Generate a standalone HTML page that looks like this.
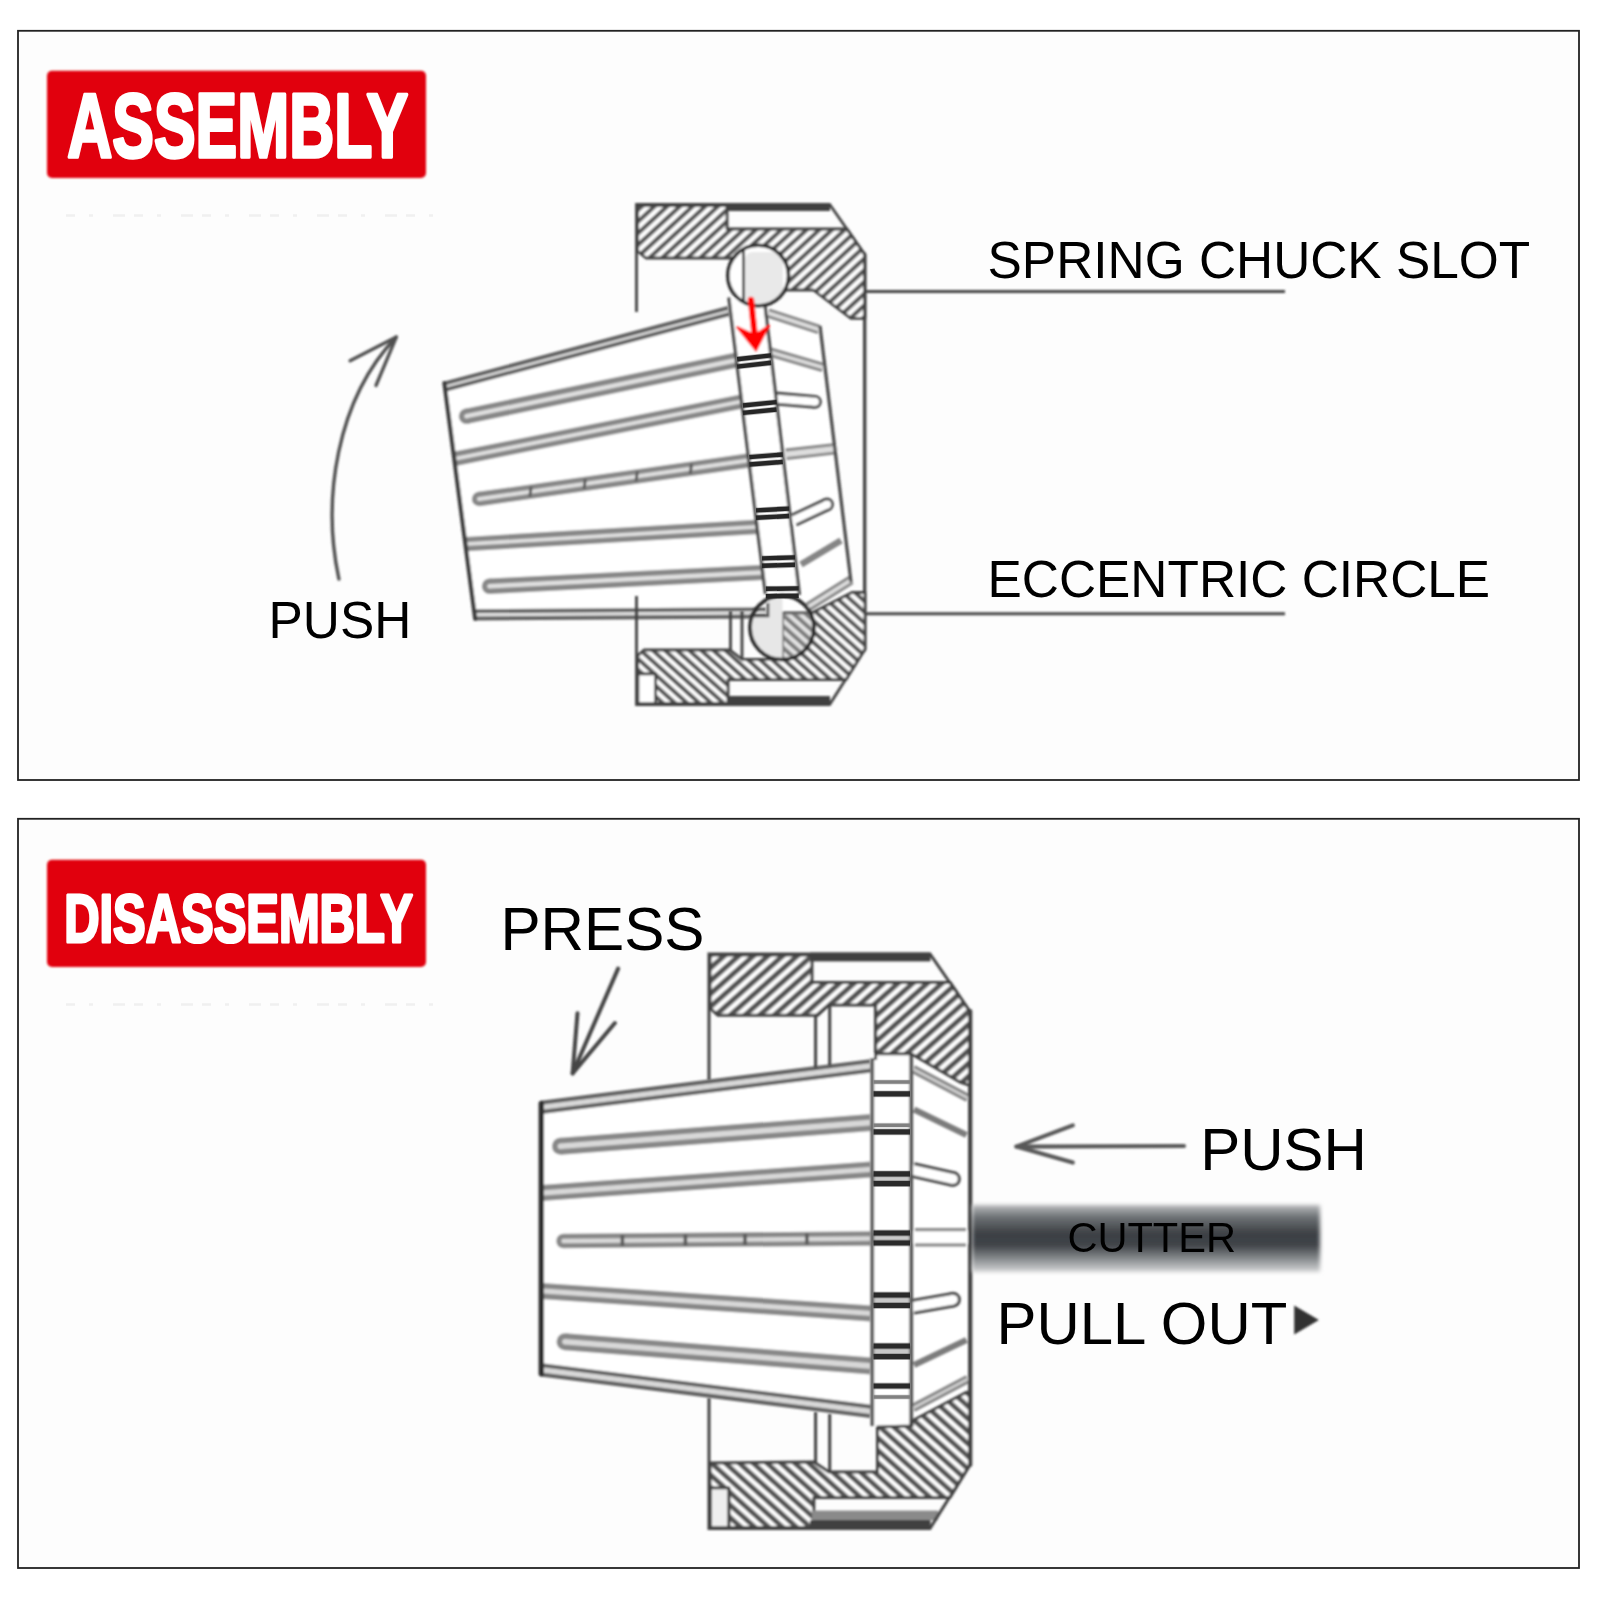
<!DOCTYPE html>
<html lang="en"><head><meta charset="utf-8"><title>Assembly / Disassembly</title>
<style>
html,body{margin:0;padding:0;background:#fff;}
body{width:1600px;height:1600px;position:relative;overflow:hidden;font-family:"Liberation Sans",sans-serif;}
svg{position:absolute;left:0;top:0;}
svg text{font-family:"Liberation Sans",sans-serif;fill:#000;}
.hd{font-weight:bold;fill:#fff;stroke:#fff;stroke-linejoin:round;}
</style></head><body>
<svg width="1600" height="1600" viewBox="0 0 1600 1600">
<defs>
<filter id="soft" x="-5%" y="-5%" width="110%" height="110%"><feGaussianBlur stdDeviation="1"/></filter>
<filter id="softc" x="-5%" y="-5%" width="110%" height="110%"><feGaussianBlur stdDeviation="1.05"/></filter>
<filter id="soft3" x="-2%" y="-5%" width="104%" height="110%"><feGaussianBlur stdDeviation="1"/></filter>
<filter id="soft2" x="-5%" y="-20%" width="110%" height="140%"><feGaussianBlur stdDeviation="2.2"/></filter>
<pattern id="hatchA" width="8.6" height="8.6" patternUnits="userSpaceOnUse" patternTransform="rotate(47.3)"><rect x="0" y="0" width="4.2" height="8.6" fill="#525252"/></pattern>
<pattern id="hatchB" width="8.1" height="8.1" patternUnits="userSpaceOnUse" patternTransform="rotate(-48)"><rect x="0" y="0" width="4.1" height="8.1" fill="#525252"/></pattern>
<pattern id="hatchC" width="9.7" height="9.7" patternUnits="userSpaceOnUse" patternTransform="rotate(48.5)"><rect x="0" y="0" width="5.2" height="9.7" fill="#525252"/></pattern>
<pattern id="hatchD" width="9.3" height="9.3" patternUnits="userSpaceOnUse" patternTransform="rotate(-48)"><rect x="0" y="0" width="5.0" height="9.3" fill="#525252"/></pattern>
<clipPath id="cpU"><circle cx="758.2" cy="275.6" r="29.6"/></clipPath>
<clipPath id="cpL"><circle cx="782" cy="627.6" r="31"/></clipPath>
<linearGradient id="cut" x1="0" y1="0" x2="0" y2="1">
<stop offset="0" stop-color="#b9bbbd"/><stop offset="0.18" stop-color="#6d7175"/><stop offset="0.42" stop-color="#3d4145"/>
<stop offset="0.6" stop-color="#3f4347"/><stop offset="0.8" stop-color="#868a8d"/><stop offset="1" stop-color="#d4d5d6"/>
</linearGradient>
</defs>
<rect x="18" y="30.8" width="1561" height="749.2" fill="#fdfdfd" stroke="#222" stroke-width="1.8"/>
<rect x="18" y="818.8" width="1561" height="749.2" fill="#fdfdfd" stroke="#222" stroke-width="1.8"/>
<rect x="47" y="70.8" width="379" height="107.2" rx="5" fill="#e1000c" filter="url(#soft3)"/>
<rect x="47" y="859.8" width="379" height="107.2" rx="5" fill="#e1000c" filter="url(#soft3)"/>
<line x1="66" y1="215.5" x2="450" y2="215.5" stroke="#f0f0f0" stroke-width="2.4" stroke-dasharray="9 14 4 20 12 9"/>
<line x1="66" y1="1004.5" x2="450" y2="1004.5" stroke="#f0f0f0" stroke-width="2.4" stroke-dasharray="9 14 4 20 12 9"/>
<g filter="url(#softc)">
<polygon points="444.4,383.5 728.1,308.0 765.0,306.0 820.0,326.0 851.0,582.0 810.0,610.0 766.0,616.0 475.2,618.3" fill="#fff" stroke="none" stroke-width="2" stroke-linejoin="round" />
<line x1="445.4" y1="386.5" x2="729.0" y2="311.0" stroke="#626262" stroke-width="10.2"/>
<line x1="444.0" y1="386.9" x2="730.4" y2="310.6" stroke="#dedede" stroke-width="2.4"/>
<line x1="476.0" y1="614.8" x2="766.0" y2="612.8" stroke="#626262" stroke-width="11.2"/>
<line x1="474.5" y1="614.8" x2="767.5" y2="612.8" stroke="#dedede" stroke-width="3.4"/>
<line x1="466.5" y1="416.2" x2="738.0" y2="359.8" stroke="#888888" stroke-width="15.4"/>
<circle cx="466.5" cy="416.2" r="7.7" fill="#888888"/>
<line x1="466.5" y1="416.2" x2="739.5" y2="359.5" stroke="#dedede" stroke-width="4.4"/>
<circle cx="466.5" cy="416.2" r="2.2" fill="#dedede"/>
<line x1="454.5" y1="458.9" x2="743.0" y2="401.2" stroke="#888888" stroke-width="14.4"/>
<line x1="453.0" y1="459.2" x2="744.5" y2="400.9" stroke="#dedede" stroke-width="3.8000000000000003"/>
<line x1="479.0" y1="499.0" x2="753.0" y2="459.8" stroke="#888888" stroke-width="14.4"/>
<circle cx="479.0" cy="499.0" r="7.2" fill="#888888"/>
<line x1="479.0" y1="499.0" x2="754.5" y2="459.6" stroke="#dedede" stroke-width="4.0"/>
<circle cx="479.0" cy="499.0" r="2.0" fill="#dedede"/>
<line x1="465.8" y1="544.1" x2="759.0" y2="526.7" stroke="#888888" stroke-width="14.4"/>
<line x1="464.3" y1="544.2" x2="760.5" y2="526.6" stroke="#dedede" stroke-width="3.8000000000000003"/>
<line x1="489.5" y1="586.2" x2="764.0" y2="572.4" stroke="#888888" stroke-width="15.4"/>
<circle cx="489.5" cy="586.2" r="7.7" fill="#888888"/>
<line x1="489.5" y1="586.2" x2="765.5" y2="572.3" stroke="#dedede" stroke-width="4.4"/>
<circle cx="489.5" cy="586.2" r="2.2" fill="#dedede"/>
<line x1="531.1" y1="486.6" x2="529.9" y2="496.6" stroke="#5a5a5a" stroke-width="3" stroke-linecap="butt" />
<line x1="585.3" y1="478.9" x2="584.1" y2="488.9" stroke="#5a5a5a" stroke-width="3" stroke-linecap="butt" />
<line x1="637.3" y1="471.4" x2="636.1" y2="481.4" stroke="#5a5a5a" stroke-width="3" stroke-linecap="butt" />
<line x1="691.5" y1="463.7" x2="690.3" y2="473.7" stroke="#5a5a5a" stroke-width="3" stroke-linecap="butt" />
<line x1="444.4" y1="383.0" x2="475.2" y2="618.8" stroke="#3c3c3c" stroke-width="4.2" stroke-linecap="round" />
</g><g filter="url(#soft)">
<line x1="768.0" y1="313.0" x2="819.0" y2="329.5" stroke="#888888" stroke-width="9.5"/>
<line x1="766.6" y1="312.5" x2="820.4" y2="330.0" stroke="#dedede" stroke-width="3.5"/>
<line x1="770.0" y1="352.0" x2="823.0" y2="367.5" stroke="#888888" stroke-width="9.5"/>
<line x1="768.6" y1="351.6" x2="824.4" y2="367.9" stroke="#dedede" stroke-width="3.5"/>
<line x1="776.0" y1="398.5" x2="815.0" y2="401.8" stroke="#4c4c4c" stroke-width="13.8"/>
<circle cx="815.0" cy="401.8" r="6.9" fill="#4c4c4c"/>
<line x1="774.5" y1="398.4" x2="815.0" y2="401.8" stroke="#fff" stroke-width="8.0"/>
<circle cx="815.0" cy="401.8" r="4.0" fill="#fff"/>
<line x1="786.0" y1="454.3" x2="836.0" y2="448.6" stroke="#888888" stroke-width="11.5"/>
<line x1="784.5" y1="454.5" x2="837.5" y2="448.4" stroke="#dedede" stroke-width="5.5"/>
<line x1="794.0" y1="520.0" x2="827.0" y2="504.5" stroke="#4c4c4c" stroke-width="13.8"/>
<circle cx="827.0" cy="504.5" r="6.9" fill="#4c4c4c"/>
<line x1="792.6" y1="520.6" x2="827.0" y2="504.5" stroke="#fff" stroke-width="8.0"/>
<circle cx="827.0" cy="504.5" r="4.0" fill="#fff"/>
<line x1="801.0" y1="564.5" x2="841.0" y2="540.5" stroke="#858585" stroke-width="6.6" stroke-linecap="butt" />
<line x1="851.0" y1="580.0" x2="808.0" y2="607.0" stroke="#888888" stroke-width="9.5"/>
<line x1="852.3" y1="579.2" x2="806.7" y2="607.8" stroke="#dedede" stroke-width="3.5"/>
<line x1="820.0" y1="326.0" x2="851.0" y2="582.0" stroke="#484848" stroke-width="3.2" stroke-linecap="butt" />
<polygon points="728.8,297.5 765.0,306.0 799.5,595.0 765.5,594.0" fill="#fff" stroke="none" stroke-width="2" stroke-linejoin="round" />
<line x1="728.8" y1="297.5" x2="765.5" y2="594.0" stroke="#444" stroke-width="3.2" stroke-linecap="butt" />
<line x1="765.0" y1="306.0" x2="799.5" y2="595.0" stroke="#444" stroke-width="3.2" stroke-linecap="butt" />
<polygon points="637.5,205.5 727.0,205.5 727.0,229.0 847.0,229.0 865.0,255.0 865.0,318.4 851.0,318.4 813.4,290.0 757.0,290.0 757.0,258.0 646.0,258.0 637.5,251.0" fill="#fff" stroke="none" stroke-width="2" stroke-linejoin="round" />
<polygon points="637.5,205.5 727.0,205.5 727.0,229.0 847.0,229.0 865.0,255.0 865.0,318.4 851.0,318.4 813.4,290.0 757.0,290.0 757.0,258.0 646.0,258.0 637.5,251.0" fill="url(#hatchA)" stroke="#404040" stroke-width="2.8" stroke-linejoin="round" />
<rect x="726" y="203" width="104" height="8" fill="#404040"/>
<polyline points="636.5,312.0 636.5,204.3 829.6,204.3 865.0,255.0" fill="none" stroke="#404040" stroke-width="2.8" stroke-linejoin="miter" />
<polyline points="865.0,649.0 829.6,704.6 636.5,704.6 636.5,596.0" fill="none" stroke="#404040" stroke-width="2.8" stroke-linejoin="miter" />
<line x1="864.7" y1="254.0" x2="864.7" y2="650.0" stroke="#404040" stroke-width="3.3" stroke-linecap="round" />
<circle cx="758.2" cy="275.6" r="30.4" fill="#fff"/>
<g clip-path="url(#cpU)"><rect x="745" y="252" width="38" height="60" rx="8" fill="#e9e9e9"/><line x1="743.5" y1="245" x2="743.5" y2="303" stroke="#404040" stroke-width="2.8"/></g>
<circle cx="758.2" cy="275.6" r="30.4" fill="none" stroke="#2c2c2c" stroke-width="3.6"/>
<polygon points="637.5,656.0 644.0,650.0 730.0,650.0 742.0,659.3 782.5,659.3 782.5,613.0 811.7,613.0 852.0,592.5 865.0,592.5 865.0,649.0 846.0,679.6 728.0,679.6 728.0,703.5 655.5,703.5 655.5,674.0 637.5,674.0" fill="#fff" stroke="none" stroke-width="2" stroke-linejoin="round" />
<polygon points="637.5,656.0 644.0,650.0 730.0,650.0 742.0,659.3 782.5,659.3 782.5,613.0 811.7,613.0 852.0,592.5 865.0,592.5 865.0,649.0 846.0,679.6 728.0,679.6 728.0,703.5 655.5,703.5 655.5,674.0 637.5,674.0" fill="url(#hatchB)" stroke="#404040" stroke-width="2.8" stroke-linejoin="round" />
<rect x="727" y="696" width="103" height="9.5" fill="#404040"/>
<rect x="638" y="674" width="17.5" height="29.5" fill="#fff" stroke="#404040" stroke-width="2.6"/>
<line x1="730.5" y1="611.0" x2="730.5" y2="650.0" stroke="#404040" stroke-width="2.8" stroke-linecap="butt" />
<line x1="742.0" y1="611.0" x2="742.0" y2="659.3" stroke="#404040" stroke-width="2.8" stroke-linecap="butt" />
<g clip-path="url(#cpL)"><polygon points="768,595 782.5,595 782.5,660 750,660 750,616 768,616" fill="#e7e7e7"/><rect x="782.5" y="613" width="40" height="50" fill="#bbb" opacity="0.4"/><polyline points="745,616 768,616 768,603" fill="none" stroke="#404040" stroke-width="2.6"/></g>
<circle cx="782" cy="627.6" r="32" fill="none" stroke="#2a2a2a" stroke-width="3.8"/>
<path d="M751,300 L755,338" stroke="#f00" stroke-width="6.5" stroke-linecap="round" fill="none"/>
<polygon points="737,327 754.5,335 769,325.5 756,350.5" fill="#f00" stroke="#f00" stroke-width="2" stroke-linejoin="round"/>
<line x1="865.0" y1="291.6" x2="1285.0" y2="291.6" stroke="#444" stroke-width="3" stroke-linecap="butt" />
<line x1="865.0" y1="613.8" x2="1285.0" y2="613.8" stroke="#444" stroke-width="3" stroke-linecap="butt" />
<path d="M338.9,579 C322,500 336,400 396.3,337" fill="none" stroke="#505050" stroke-width="3.4" stroke-linecap="round"/>
<polyline points="350.1,360.8 396.3,337.1 376,385.5" fill="none" stroke="#505050" stroke-width="3.4" stroke-linecap="round" stroke-linejoin="round"/>
</g>
<line x1="737.1" y1="359.2" x2="771.1" y2="355.4" stroke="#262626" stroke-width="6.0" stroke-opacity="0.3"/>
<line x1="737.1" y1="359.2" x2="771.1" y2="355.4" stroke="#262626" stroke-width="4.4"/>
<line x1="737.1" y1="366.6" x2="771.1" y2="362.8" stroke="#262626" stroke-width="6.0" stroke-opacity="0.3"/>
<line x1="737.1" y1="366.6" x2="771.1" y2="362.8" stroke="#262626" stroke-width="4.4"/>
<line x1="742.9" y1="405.5" x2="776.6" y2="402.1" stroke="#262626" stroke-width="6.0" stroke-opacity="0.3"/>
<line x1="742.9" y1="405.5" x2="776.6" y2="402.1" stroke="#262626" stroke-width="4.4"/>
<line x1="742.9" y1="412.9" x2="776.6" y2="409.5" stroke="#262626" stroke-width="6.0" stroke-opacity="0.3"/>
<line x1="742.9" y1="412.9" x2="776.6" y2="409.5" stroke="#262626" stroke-width="4.4"/>
<line x1="749.3" y1="457.1" x2="782.8" y2="454.5" stroke="#262626" stroke-width="6.0" stroke-opacity="0.3"/>
<line x1="749.3" y1="457.1" x2="782.8" y2="454.5" stroke="#262626" stroke-width="4.4"/>
<line x1="749.3" y1="464.5" x2="782.8" y2="461.9" stroke="#262626" stroke-width="6.0" stroke-opacity="0.3"/>
<line x1="749.3" y1="464.5" x2="782.8" y2="461.9" stroke="#262626" stroke-width="4.4"/>
<line x1="756.0" y1="510.4" x2="789.2" y2="508.6" stroke="#262626" stroke-width="6.0" stroke-opacity="0.3"/>
<line x1="756.0" y1="510.4" x2="789.2" y2="508.6" stroke="#262626" stroke-width="4.4"/>
<line x1="756.0" y1="517.8" x2="789.2" y2="516.0" stroke="#262626" stroke-width="6.0" stroke-opacity="0.3"/>
<line x1="756.0" y1="517.8" x2="789.2" y2="516.0" stroke="#262626" stroke-width="4.4"/>
<line x1="762.0" y1="558.4" x2="795.0" y2="557.4" stroke="#262626" stroke-width="6.0" stroke-opacity="0.3"/>
<line x1="762.0" y1="558.4" x2="795.0" y2="557.4" stroke="#262626" stroke-width="4.4"/>
<line x1="762.0" y1="565.8" x2="795.0" y2="564.8" stroke="#262626" stroke-width="6.0" stroke-opacity="0.3"/>
<line x1="762.0" y1="565.8" x2="795.0" y2="564.8" stroke="#262626" stroke-width="4.4"/>
<line x1="765.8" y1="588.8" x2="798.7" y2="588.4" stroke="#262626" stroke-width="6.0" stroke-opacity="0.3"/>
<line x1="765.8" y1="588.8" x2="798.7" y2="588.4" stroke="#262626" stroke-width="4.4"/>
<line x1="765.8" y1="596.2" x2="798.7" y2="595.8" stroke="#262626" stroke-width="6.0" stroke-opacity="0.3"/>
<line x1="765.8" y1="596.2" x2="798.7" y2="595.8" stroke="#262626" stroke-width="4.4"/>
<g filter="url(#softc)">
<polygon points="541.3,1101.9 871.0,1060.2 915.0,1056.0 968.0,1092.0 968.0,1388.0 915.0,1422.0 871.0,1417.0 541.3,1375.3" fill="#fff" stroke="none" stroke-width="2" stroke-linejoin="round" />
<line x1="541.3" y1="1107.3" x2="871.0" y2="1065.8" stroke="#626262" stroke-width="13.4"/>
<line x1="539.8" y1="1107.5" x2="872.5" y2="1065.7" stroke="#d8d8d8" stroke-width="5.2"/>
<line x1="541.3" y1="1369.9" x2="871.0" y2="1411.4" stroke="#626262" stroke-width="13.4"/>
<line x1="539.8" y1="1369.7" x2="872.5" y2="1411.6" stroke="#d8d8d8" stroke-width="5.2"/>
<line x1="560.5" y1="1146.3" x2="871.0" y2="1122.5" stroke="#888888" stroke-width="17.0"/>
<circle cx="560.5" cy="1146.3" r="8.5" fill="#888888"/>
<line x1="560.5" y1="1146.3" x2="872.5" y2="1122.4" stroke="#d8d8d8" stroke-width="5.6"/>
<circle cx="560.5" cy="1146.3" r="2.8" fill="#d8d8d8"/>
<line x1="541.3" y1="1193.0" x2="871.0" y2="1169.4" stroke="#888888" stroke-width="16.0"/>
<line x1="539.8" y1="1193.1" x2="872.5" y2="1169.3" stroke="#d8d8d8" stroke-width="5.1"/>
<line x1="563.5" y1="1241.0" x2="871.0" y2="1238.5" stroke="#888888" stroke-width="14.5"/>
<circle cx="563.5" cy="1241.0" r="7.25" fill="#888888"/>
<line x1="563.5" y1="1241.0" x2="872.5" y2="1238.5" stroke="#d8d8d8" stroke-width="4.3999999999999995"/>
<circle cx="563.5" cy="1241.0" r="2.1999999999999997" fill="#d8d8d8"/>
<line x1="541.3" y1="1290.9" x2="871.0" y2="1313.4" stroke="#888888" stroke-width="16.0"/>
<line x1="539.8" y1="1290.8" x2="872.5" y2="1313.5" stroke="#d8d8d8" stroke-width="5.1"/>
<line x1="565.0" y1="1341.7" x2="871.0" y2="1366.0" stroke="#888888" stroke-width="17.0"/>
<circle cx="565.0" cy="1341.7" r="8.5" fill="#888888"/>
<line x1="565.0" y1="1341.7" x2="872.5" y2="1366.1" stroke="#d8d8d8" stroke-width="5.6"/>
<circle cx="565.0" cy="1341.7" r="2.8" fill="#d8d8d8"/>
<line x1="622.4" y1="1235.0" x2="622.4" y2="1246.0" stroke="#5a5a5a" stroke-width="3.6" stroke-linecap="butt" />
<line x1="685.4" y1="1234.5" x2="685.4" y2="1245.5" stroke="#5a5a5a" stroke-width="3.6" stroke-linecap="butt" />
<line x1="745.0" y1="1234.0" x2="745.0" y2="1245.0" stroke="#5a5a5a" stroke-width="3.6" stroke-linecap="butt" />
<line x1="806.9" y1="1233.5" x2="806.9" y2="1244.5" stroke="#5a5a5a" stroke-width="3.6" stroke-linecap="butt" />
<line x1="541.3" y1="1103.4" x2="541.3" y2="1373.8" stroke="#2e2e2e" stroke-width="5.4" stroke-linecap="round" />
</g><g filter="url(#soft)">
<line x1="913.0" y1="1069.0" x2="968.0" y2="1098.0" stroke="#888888" stroke-width="8.6"/>
<line x1="911.7" y1="1068.3" x2="969.3" y2="1098.7" stroke="#d8d8d8" stroke-width="2.4"/>
<line x1="913.0" y1="1408.0" x2="968.0" y2="1379.0" stroke="#888888" stroke-width="8.6"/>
<line x1="911.7" y1="1408.7" x2="969.3" y2="1378.3" stroke="#d8d8d8" stroke-width="2.4"/>
<line x1="914.0" y1="1109.5" x2="966.5" y2="1135.0" stroke="#7c7c7c" stroke-width="6.2" stroke-linecap="butt" />
<line x1="914.0" y1="1365.0" x2="966.5" y2="1340.0" stroke="#7c7c7c" stroke-width="6.2" stroke-linecap="butt" />
<line x1="913.0" y1="1170.0" x2="953.0" y2="1179.0" stroke="#4c4c4c" stroke-width="15.8"/>
<circle cx="953.0" cy="1179.0" r="7.9" fill="#4c4c4c"/>
<line x1="911.5" y1="1169.7" x2="953.0" y2="1179.0" stroke="#fff" stroke-width="9.6"/>
<circle cx="953.0" cy="1179.0" r="4.8" fill="#fff"/>
<line x1="913.0" y1="1306.8" x2="953.0" y2="1299.7" stroke="#4c4c4c" stroke-width="15.8"/>
<circle cx="953.0" cy="1299.7" r="7.9" fill="#4c4c4c"/>
<line x1="911.5" y1="1307.1" x2="953.0" y2="1299.7" stroke="#fff" stroke-width="9.6"/>
<circle cx="953.0" cy="1299.7" r="4.8" fill="#fff"/>
<line x1="915.0" y1="1237.2" x2="966.0" y2="1237.2" stroke="#8c8c8c" stroke-width="18.4"/>
<line x1="913.5" y1="1237.2" x2="967.5" y2="1237.2" stroke="#fff" stroke-width="12"/>
<rect x="872" y="1054" width="39" height="372" fill="#fff"/>
<rect x="873" y="1173.9" width="38" height="9.8" fill="#c8c8c8"/>
<rect x="873" y="1233.0" width="38" height="10.0" fill="#c8c8c8"/>
<rect x="873" y="1295.0" width="38" height="10.5" fill="#c8c8c8"/>
<rect x="873" y="1346.0" width="38" height="10.6" fill="#c8c8c8"/>
<line x1="872.3" y1="1058.0" x2="872.3" y2="1426.0" stroke="#555" stroke-width="3.6" stroke-linecap="butt" />
<line x1="911.2" y1="1054.0" x2="911.2" y2="1426.0" stroke="#555" stroke-width="3.8" stroke-linecap="butt" />
<polygon points="710.0,955.0 811.9,955.0 811.9,982.5 950.3,982.5 970.5,1012.5 970.5,1085.6 960.0,1082.0 911.2,1053.8 875.6,1053.8 875.6,1005.0 828.8,1005.0 817.5,1015.3 718.0,1015.3 710.0,1008.0" fill="#fff" stroke="none" stroke-width="2" stroke-linejoin="round" />
<polygon points="710.0,955.0 811.9,955.0 811.9,982.5 950.3,982.5 970.5,1012.5 970.5,1085.6 960.0,1082.0 911.2,1053.8 875.6,1053.8 875.6,1005.0 828.8,1005.0 817.5,1015.3 718.0,1015.3 710.0,1008.0" fill="url(#hatchC)" stroke="#404040" stroke-width="3" stroke-linejoin="round" />
<rect x="810" y="952.6" width="120.5" height="8.8" fill="#404040"/>
<line x1="815.6" y1="1015.0" x2="815.6" y2="1068.0" stroke="#404040" stroke-width="3" stroke-linecap="butt" />
<line x1="829.7" y1="1005.0" x2="829.7" y2="1066.0" stroke="#404040" stroke-width="3" stroke-linecap="butt" />
<line x1="875.6" y1="1005.0" x2="875.6" y2="1060.0" stroke="#404040" stroke-width="3" stroke-linecap="butt" />
<polygon points="710.0,1463.0 813.8,1462.0 828.8,1472.0 877.5,1472.0 877.5,1427.0 912.0,1426.0 912.0,1421.0 966.0,1392.5 970.5,1392.0 970.5,1463.8 950.0,1497.5 813.8,1497.5 813.8,1527.5 729.0,1527.5 729.0,1488.0 710.0,1488.0" fill="#fff" stroke="none" stroke-width="2" stroke-linejoin="round" />
<polygon points="710.0,1463.0 813.8,1462.0 828.8,1472.0 877.5,1472.0 877.5,1427.0 912.0,1426.0 912.0,1421.0 966.0,1392.5 970.5,1392.0 970.5,1463.8 950.0,1497.5 813.8,1497.5 813.8,1527.5 729.0,1527.5 729.0,1488.0 710.0,1488.0" fill="url(#hatchD)" stroke="#404040" stroke-width="3" stroke-linejoin="round" />
<rect x="812" y="1510.6" width="126" height="9.6" fill="#8a8a8a"/>
<rect x="810" y="1520" width="120.5" height="9" fill="#404040"/>
<rect x="710.6" y="1488" width="18" height="39.5" fill="#eee" stroke="#404040" stroke-width="2.6"/>
<line x1="815.6" y1="1412.0" x2="815.6" y2="1462.0" stroke="#404040" stroke-width="3" stroke-linecap="butt" />
<line x1="829.7" y1="1414.0" x2="829.7" y2="1472.0" stroke="#404040" stroke-width="3" stroke-linecap="butt" />
<polyline points="709.0,1080.0 709.0,954.0 930.0,954.0 970.5,1012.5" fill="none" stroke="#404040" stroke-width="3.0" stroke-linejoin="miter" />
<polyline points="970.5,1464.0 930.0,1528.4 709.0,1528.4 709.0,1398.0" fill="none" stroke="#404040" stroke-width="3.0" stroke-linejoin="miter" />
<line x1="970.2" y1="1011.0" x2="970.2" y2="1465.0" stroke="#404040" stroke-width="4.2" stroke-linecap="round" />
<path d="M618.1,968.6 L572.6,1073.4" stroke="#444" stroke-width="4" stroke-linecap="round"/>
<polyline points="577.5,1013.2 572.6,1073.4 614.9,1023" fill="none" stroke="#444" stroke-width="4" stroke-linecap="round" stroke-linejoin="round"/>
<path d="M1184,1146 L1016.4,1146.6" stroke="#585858" stroke-width="4.2" stroke-linecap="round"/>
<polyline points="1072.8,1125.4 1016.4,1146.6 1072.8,1162.5" fill="none" stroke="#585858" stroke-width="4.2" stroke-linecap="round" stroke-linejoin="round"/>
</g>
<line x1="873.5" y1="1082.0" x2="910.0" y2="1082.0" stroke="#808080" stroke-width="5.0" stroke-opacity="0.3"/>
<line x1="873.5" y1="1082.0" x2="910.0" y2="1082.0" stroke="#808080" stroke-width="3.4"/>
<line x1="873.5" y1="1093.8" x2="910.0" y2="1093.8" stroke="#2a2a2a" stroke-width="6.800000000000001" stroke-opacity="0.3"/>
<line x1="873.5" y1="1093.8" x2="910.0" y2="1093.8" stroke="#2a2a2a" stroke-width="5.2"/>
<line x1="873.5" y1="1125.3" x2="910.0" y2="1125.3" stroke="#808080" stroke-width="5.0" stroke-opacity="0.3"/>
<line x1="873.5" y1="1125.3" x2="910.0" y2="1125.3" stroke="#808080" stroke-width="3.4"/>
<line x1="873.5" y1="1131.9" x2="910.0" y2="1131.9" stroke="#2a2a2a" stroke-width="6.800000000000001" stroke-opacity="0.3"/>
<line x1="873.5" y1="1131.9" x2="910.0" y2="1131.9" stroke="#2a2a2a" stroke-width="5.2"/>
<line x1="873.5" y1="1173.9" x2="910.0" y2="1173.9" stroke="#2a2a2a" stroke-width="6.800000000000001" stroke-opacity="0.3"/>
<line x1="873.5" y1="1173.9" x2="910.0" y2="1173.9" stroke="#2a2a2a" stroke-width="5.2"/>
<line x1="873.5" y1="1183.7" x2="910.0" y2="1183.7" stroke="#2a2a2a" stroke-width="6.800000000000001" stroke-opacity="0.3"/>
<line x1="873.5" y1="1183.7" x2="910.0" y2="1183.7" stroke="#2a2a2a" stroke-width="5.2"/>
<line x1="873.5" y1="1233.0" x2="910.0" y2="1233.0" stroke="#2a2a2a" stroke-width="6.800000000000001" stroke-opacity="0.3"/>
<line x1="873.5" y1="1233.0" x2="910.0" y2="1233.0" stroke="#2a2a2a" stroke-width="5.2"/>
<line x1="873.5" y1="1243.0" x2="910.0" y2="1243.0" stroke="#2a2a2a" stroke-width="6.800000000000001" stroke-opacity="0.3"/>
<line x1="873.5" y1="1243.0" x2="910.0" y2="1243.0" stroke="#2a2a2a" stroke-width="5.2"/>
<line x1="873.5" y1="1295.0" x2="910.0" y2="1295.0" stroke="#2a2a2a" stroke-width="6.800000000000001" stroke-opacity="0.3"/>
<line x1="873.5" y1="1295.0" x2="910.0" y2="1295.0" stroke="#2a2a2a" stroke-width="5.2"/>
<line x1="873.5" y1="1305.5" x2="910.0" y2="1305.5" stroke="#2a2a2a" stroke-width="6.800000000000001" stroke-opacity="0.3"/>
<line x1="873.5" y1="1305.5" x2="910.0" y2="1305.5" stroke="#2a2a2a" stroke-width="5.2"/>
<line x1="873.5" y1="1346.0" x2="910.0" y2="1346.0" stroke="#2a2a2a" stroke-width="6.800000000000001" stroke-opacity="0.3"/>
<line x1="873.5" y1="1346.0" x2="910.0" y2="1346.0" stroke="#2a2a2a" stroke-width="5.2"/>
<line x1="873.5" y1="1356.6" x2="910.0" y2="1356.6" stroke="#2a2a2a" stroke-width="6.800000000000001" stroke-opacity="0.3"/>
<line x1="873.5" y1="1356.6" x2="910.0" y2="1356.6" stroke="#2a2a2a" stroke-width="5.2"/>
<line x1="873.5" y1="1386.0" x2="910.0" y2="1386.0" stroke="#2a2a2a" stroke-width="6.800000000000001" stroke-opacity="0.3"/>
<line x1="873.5" y1="1386.0" x2="910.0" y2="1386.0" stroke="#2a2a2a" stroke-width="5.2"/>
<line x1="873.5" y1="1397.0" x2="910.0" y2="1397.0" stroke="#808080" stroke-width="5.0" stroke-opacity="0.3"/>
<line x1="873.5" y1="1397.0" x2="910.0" y2="1397.0" stroke="#808080" stroke-width="3.4"/>
<rect x="972" y="1205" width="348" height="67" fill="url(#cut)" filter="url(#soft2)"/>
<polygon points="1294.2,1305.5 1294.2,1334.4 1318.9,1320" fill="#333" filter="url(#soft)"/>
<text class="hd" transform="translate(67.2,157.3) scale(0.686,1)" font-size="91" stroke-width="3.5">ASSEMBLY</text>
<text class="hd" transform="translate(64.2,941.6) scale(0.713,1)" font-size="68.6" stroke-width="3.2">DISASSEMBLY</text>
<text x="987.6" y="277.5" font-size="51.4">SPRING CHUCK SLOT</text>
<text x="987.6" y="596.5" font-size="51.4">ECCENTRIC CIRCLE</text>
<text x="268.6" y="637.5" font-size="51.4">PUSH</text>
<text x="500.4" y="950.4" font-size="60.2">PRESS</text>
<text x="1200.2" y="1170.2" font-size="60">PUSH</text>
<text x="1067.4" y="1251.9" font-size="41.6">CUTTER</text>
<text x="996.6" y="1343.5" font-size="59.9">PULL OUT</text>
</svg></body></html>
